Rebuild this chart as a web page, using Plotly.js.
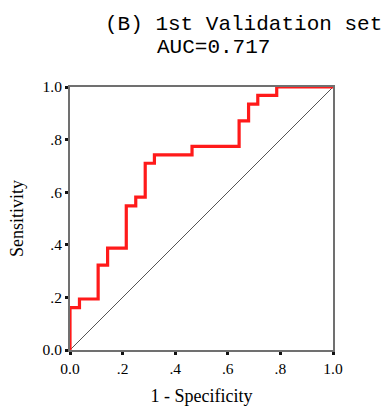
<!DOCTYPE html>
<html>
<head>
<meta charset="utf-8">
<script src="https://cdn.plot.ly/plotly-3.0.1.min.js"></script>
<style>html,body{margin:0;padding:0;background:#fff;}#chart{width:388px;height:408px;}</style>
</head>
<body>
<div id="chart"></div>
<script>
// ROC curve points (1 - Specificity, Sensitivity), step shape
const fpr = [0, 0, 0.036, 0.107, 0.143, 0.214, 0.25, 0.286, 0.321, 0.464, 0.643, 0.679, 0.714, 0.786, 1.0];
const tpr = [0, 0.161, 0.194, 0.323, 0.387, 0.548, 0.581, 0.710, 0.742, 0.774, 0.871, 0.935, 0.968, 1.0, 1.0];
const refX = [0, 1];
const refY = [0, 1];
const tickVals = [0, 0.2, 0.4, 0.6, 0.8, 1.0];
const tickText = ['0.0', '.2', '.4', '.6', '.8', '1.0'];
const titleLine1 = '(B) 1st Validation set';
const titleLine2 = 'AUC=0.717';

const serif = 'Liberation Serif, Times New Roman, serif';
const traces = [
  {x: refX, y: refY, mode: 'lines', line: {color: '#555', width: 1}, hoverinfo: 'skip'},
  {x: fpr, y: tpr, mode: 'lines', line: {color: '#ff1a1a', width: 3.2, shape: 'hv'}, cliponaxis: false}
];
const axisCommon = {
  range: [0, 1], tickvals: tickVals, ticktext: tickText,
  showgrid: false, zeroline: false, showline: true, linecolor: '#707070', linewidth: 2,
  mirror: true, ticks: 'outside', ticklen: 3, tickwidth: 3, tickcolor: '#111',
  tickfont: {family: serif, size: 15.5, color: '#000'}, fixedrange: true
};
const layout = {
  width: 388, height: 408, paper_bgcolor: '#fff', plot_bgcolor: '#fff', showlegend: false,
  margin: {l: 70, r: 55, t: 87, b: 58},
  xaxis: Object.assign({}, axisCommon, {title: {text: '1 - Specificity', font: {family: serif, size: 18, color: '#000'}, standoff: 14}}),
  yaxis: Object.assign({}, axisCommon, {title: {text: 'Sensitivity', font: {family: serif, size: 18, color: '#000'}, standoff: 14}})
};
const pw = 388 - 70 - 55, ph = 408 - 87 - 58;
function px2x(px){ return (px - 70) / pw; }
function py2y(py){ return (408 - 58 - py) / ph; }
const monoFont = {family: 'Liberation Mono, DejaVu Sans Mono, monospace', size: 21, color: '#000'};
layout.annotations = [
  {text: titleLine1, xref: 'paper', yref: 'paper', x: px2x(243), y: py2y(24), xanchor: 'center', yanchor: 'middle', showarrow: false, font: monoFont},
  {text: titleLine2, xref: 'paper', yref: 'paper', x: px2x(213), y: py2y(48), xanchor: 'center', yanchor: 'middle', showarrow: false, font: monoFont}
];
Plotly.newPlot('chart', traces, layout, {displayModeBar: false, staticPlot: true});
</script>
</body>
</html>
